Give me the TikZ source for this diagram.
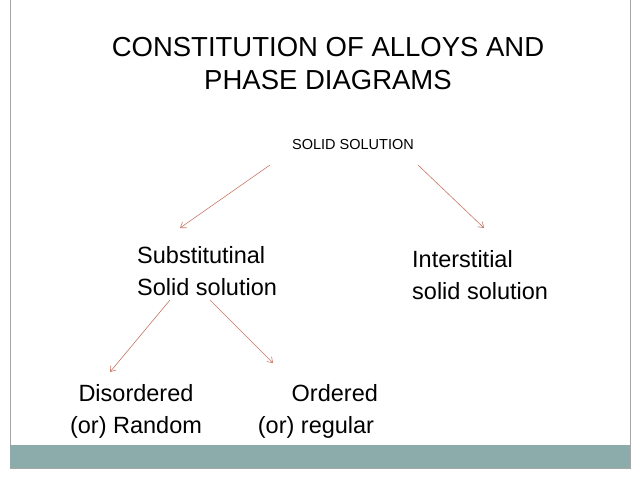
\documentclass[tikz,border=0pt]{standalone}
\usepackage{fontspec}
\setmainfont{Liberation Sans}
\usetikzlibrary{arrows.meta}
\definecolor{arr}{RGB}{200,120,100}
\definecolor{bar}{RGB}{140,172,172}
\begin{document}
\begin{tikzpicture}[x=1pt,y=-1pt,
  arrow/.style={draw=arr,line width=0.6pt,-{Straight Barb[length=5pt,width=7pt]}},
  lbl/.style={font=\fontsize{23.5}{32}\selectfont,align=left,inner sep=0}]
\useasboundingbox (0,0) rectangle (638,479);
\fill[white] (0,0) rectangle (638,479);
\draw[gray!70,line width=0.5pt] (10,0) -- (10,468) -- (630,468) -- (630,0);
\fill[bar] (10,445) rectangle (630,468);
\node[align=center,font=\fontsize{27.5}{33}\selectfont,inner sep=0] (title) at (328,64) {CONSTITUTION OF ALLOYS AND\\PHASE DIAGRAMS};
\node[font=\fontsize{14.5}{17}\selectfont,inner sep=0] (ss) at (353,145) {SOLID SOLUTION};
\node[lbl,anchor=west] (sub) at (137,271) {Substitutinal\\Solid solution};
\node[lbl,anchor=west] (int) at (412,275) {Interstitial\\solid solution};
\node[lbl,align=center] (dis) at (136,411) {Disordered\\(or) Random};
\node[lbl,align=center] (ord) at (316,411) {\hspace*{1.6em}Ordered\\(or) regular};
\coordinate (a1) at (270,165); \coordinate (b1) at (180,228);
\coordinate (a2) at (418,165); \coordinate (b2) at (484,228);
\coordinate (a3) at (170,300); \coordinate (b3) at (110,372);
\coordinate (a4) at (210,300); \coordinate (b4) at (273,363);
\draw[arrow] (a1) -- (b1);
\draw[arrow] (a2) -- (b2);
\draw[arrow] (a3) -- (b3);
\draw[arrow] (a4) -- (b4);
\end{tikzpicture}
\end{document}
